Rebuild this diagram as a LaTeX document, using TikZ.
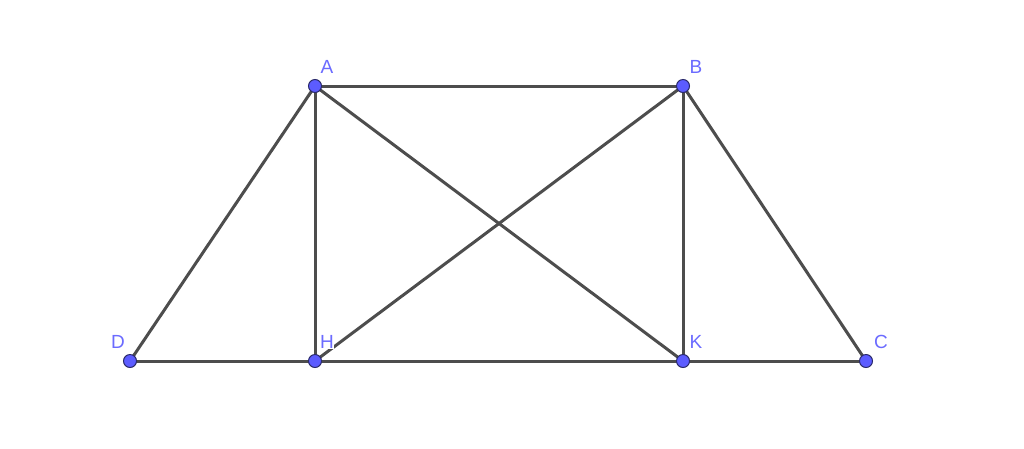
\documentclass[tikz,border=0pt]{standalone}
\usepackage{fontspec}
\setmainfont{Liberation Sans}
\definecolor{ptfill}{HTML}{5C5CFF}
\definecolor{ptline}{HTML}{2A2A6A}
\definecolor{lbl}{HTML}{6B6BFF}
\definecolor{seg}{HTML}{4D4D4D}
\tikzset{
  pt/.style={circle,fill=ptfill,draw=ptline,line width=1pt,inner sep=0pt,minimum size=13pt},
  lab/.style={text=lbl,fill=white,font=\fontsize{19pt}{19pt}\selectfont,inner sep=0.5pt,anchor=base},
  segline/.style={draw=seg,line width=3pt,line cap=round}
}
\begin{document}
\begin{tikzpicture}[x=1pt,y=-1pt]
\useasboundingbox[fill=white] (0,0) rectangle (1024,448);
\coordinate (A) at (315,86);
\coordinate (B) at (683,86);
\coordinate (D) at (130,361);
\coordinate (H) at (315,361);
\coordinate (K) at (683,361);
\coordinate (C) at (866,361);
\draw[segline] (A) -- (B);
\draw[segline] (D) -- (C);
\draw[segline] (A) -- (D);
\draw[segline] (B) -- (C);
\draw[segline] (A) -- (H);
\draw[segline] (B) -- (K);
\draw[segline] (A) -- (K);
\draw[segline] (B) -- (H);
\foreach \p in {A,B,D,H,K,C} \node[pt] (n\p) at (\p) {};
\node[lab] (lA) at (327,73) {A};
\node[lab] (lB) at (696,73) {B};
\node[lab] (lD) at (118,348) {D};
\node[lab] (lH) at (327,348) {H};
\node[lab] (lK) at (696,348) {K};
\node[lab] (lC) at (881,348) {C};
\end{tikzpicture}
\end{document}
